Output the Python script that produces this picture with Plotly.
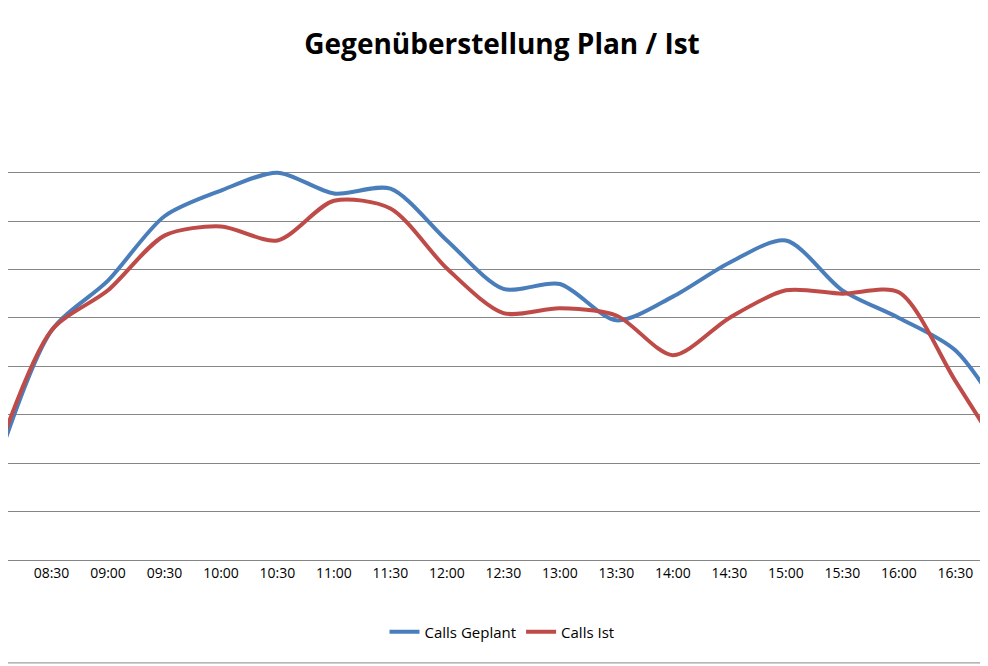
import plotly.graph_objects as go

times = ["08:00","08:30","09:00","09:30","10:00","10:30","11:00","11:30","12:00","12:30",
         "13:00","13:30","14:00","14:30","15:00","15:30","16:00","16:30","17:00"]
geplant = [18.6,47.4,57.7,71,76.3,80,75.7,76.7,66,56,57,49.5,54.4,61.4,66,55.7,50,43.3,26.8]
ist = [20.6,47.4,55.7,67,68.9,66,74.2,72.6,60.2,51,52,50.5,42.3,50,55.7,55,55.3,37,18.6]

x = list(range(len(times)))
fig = go.Figure()
fig.add_trace(go.Scatter(x=x, y=geplant, name="Calls Geplant", mode="lines",
                         line=dict(color="#4a7ebb", width=4, shape="spline", smoothing=0.8)))
fig.add_trace(go.Scatter(x=x, y=ist, name="Calls Ist", mode="lines",
                         line=dict(color="#be4b48", width=4, shape="spline", smoothing=0.8)))
fig.update_layout(
    width=988, height=666, plot_bgcolor="white", paper_bgcolor="white",
    margin=dict(l=0, r=0, t=116, b=114),
    title=dict(text="<b>Gegenüberstellung Plan / Ist</b>", x=0.5, y=0.946, xanchor="center",
               yanchor="middle", font=dict(family="Open Sans", size=28, color="black")),
    font=dict(family="Open Sans", size=14, color="black"),
    xaxis=dict(tickmode="array", tickvals=x, ticktext=times, range=[0.23, 17.72],
               showgrid=False, showline=True, linecolor="#868686", ticks="", zeroline=False),
    yaxis=dict(range=[0, 90.05], dtick=10, showgrid=True, gridcolor="#868686", gridwidth=1,
               showticklabels=False, zeroline=False),
    legend=dict(orientation="h", x=0.5, xanchor="center", y=-0.165, yanchor="middle",
                font=dict(size=15)),
)
fig.add_shape(type="line", xref="paper", yref="paper", x0=0, x1=1, y0=-0.236, y1=-0.236,
              line=dict(color="#868686", width=1))
fig.write_html("out.html")
